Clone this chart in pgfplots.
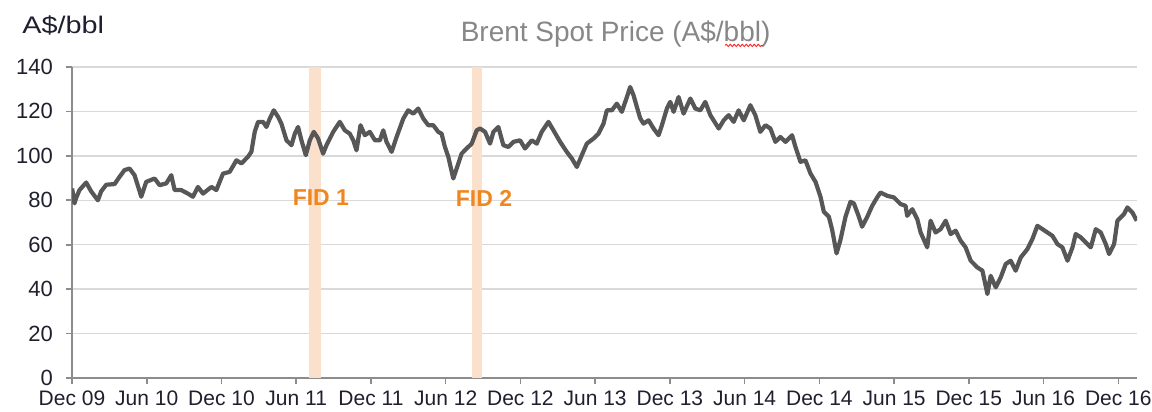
\documentclass[border=0pt]{standalone}
\usepackage{fontspec}
\setmainfont{Liberation Sans}
\usepackage{graphicx}
\usepackage{pgfplots}
\pgfplotsset{compat=1.18}
\usetikzlibrary{decorations.pathmorphing}
\definecolor{linegray}{HTML}{575757}
\definecolor{gridgray}{HTML}{D9D9D9}
\definecolor{axgray}{HTML}{8C8C8C}
\definecolor{fidband}{HTML}{FBE1CB}
\definecolor{fidtext}{HTML}{F0861E}
\definecolor{titlegray}{HTML}{878787}
\definecolor{ticktext}{HTML}{1F1F2E}
\begin{document}
\begin{tikzpicture}
\useasboundingbox (0pt,0pt) rectangle (576pt,206pt);
\begin{axis}[
  at={(36pt,17pt)}, anchor=south west,
  scale only axis, width=532.5pt, height=155.5pt,
  xmin=0, xmax=85.5, ymin=0, ymax=140,
  axis x line*=bottom, axis y line*=left,
  axis line style={axgray, line width=0.8pt, -},
  xtick={0,6,...,84},
  xticklabels={Dec 09, Jun 10, Dec 10, Jun 11, Dec 11, Jun 12, Dec 12, Jun 13, Dec 13, Jun 14, Dec 14, Jun 15, Dec 15, Jun 16, Dec 16},
  ytick={0,20,...,140},
  ymajorgrids, grid style={gridgray, line width=0.7pt},
  tick style={axgray, line width=0.8pt},
  tick align=outside, major tick length=3pt,
  ticklabel style={font=\fontsize{10.5}{12}\selectfont, text=ticktext},
  yticklabel style={font=\fontsize{11}{12}\selectfont, xshift=-3pt},
  /pgf/number format/assume math mode=true,
]
\addplot[fill=fidband, draw=none, forget plot] coordinates {(19.0,140) (19.97,140)} \closedcycle;
\addplot[fill=fidband, draw=none, forget plot] coordinates {(32.1,140) (32.9,140)} \closedcycle;
\addplot[linegray, line width=2.1pt, line join=round] coordinates {
(0.01,85.3) (0.2,78.6) (0.33,81) (0.6,84.6) (1.14,88) (1.54,84) (2.08,80) (2.34,84) (2.75,87) (3.42,87.3)
(3.82,90.6) (4.22,93.6) (4.62,94.3) (5.02,91.3) (5.43,84) (5.56,81.6) (5.96,88.3) (6.63,89.8) (7.03,86.8)
(7.57,87.6) (7.97,91.3) (8.24,84.6) (8.77,84.6) (9.31,83) (9.71,81.6) (10.11,86) (10.52,83) (11.19,86)
(11.59,84.6) (12.12,92) (12.66,92.8) (13.2,98) (13.6,96.6) (14.13,99.6) (14.4,101.8) (14.67,110.8)
(14.94,115.3) (15.34,115.3) (15.61,113) (15.88,116.8) (16.2,120.5) (16.55,117.5) (16.81,114.5) (17.22,107)
(17.62,104.8) (17.89,110) (18.15,113) (18.42,107) (18.77,100.3) (19.09,107) (19.41,110.8) (19.76,107.8)
(20.16,101) (20.43,104.8) (20.97,110.8) (21.5,115.3) (21.9,111.5)
(22.3,110) (22.58,107) (22.84,102.5) (23.16,113.8) (23.51,109.3) (23.91,110.8) (24.32,107) (24.72,107)
(24.99,111.5) (25.25,106.3) (25.66,101.8) (26.06,108.5) (26.6,116.8) (26.99,120.5) (27.4,119) (27.8,121.3)
(28.2,116.8) (28.6,113.8) (29.0,113.8) (29.4,110.8) (29.67,110) (29.94,104) (30.21,99.6) (30.61,89.8)
(30.88,94.3) (31.28,101) (31.68,103.3) (32.09,105.5) (32.49,111.5) (32.76,112.3) (33.16,110.8) (33.56,105.5)
(33.83,110.8) (34.23,113) (34.63,104.8) (35.03,104) (35.44,106.3) (35.97,107) (36.37,103.3) (36.91,107)
(37.31,105.5) (37.71,110.8) (38.25,115.3) (38.65,111.5) (39.19,106.3) (39.72,101.8) (40.13,98.8) (40.53,95)
(40.93,100.3) (41.33,105.5) (41.87,107.8) (42.27,110) (42.67,114.5) (42.94,120.5) (43.34,120.5) (43.74,123.5)
(44.14,119.8)
(44.55,126.5) (44.81,131) (45.08,127.3) (45.35,122) (45.61,117) (45.88,114.5) (46.29,116) (46.69,112.3)
(47.09,109.3) (47.36,113.8) (47.76,121.3) (48.03,124.3) (48.3,119.8) (48.7,126.5) (49.1,119) (49.64,125.8)
(50.04,121.3) (50.44,120.5) (50.84,124.3) (51.25,118.3) (51.92,112.3) (52.32,116) (52.72,118.3) (53.12,115.3)
(53.52,120.5) (53.93,116) (54.46,122.8) (54.86,118.3) (55.26,110.8) (55.67,113.8) (56.07,112.3) (56.47,106.3)
(56.87,108.5) (57.28,106.3) (57.81,109.3) (58.08,104) (58.48,97.3) (58.88,98) (59.29,92) (59.69,88.3)
(60.09,81.6) (60.36,74.8) (60.76,72.6) (61.03,66.6) (61.38,56.1) (61.69,62.1) (62.1,72.6) (62.5,79.3)
(62.77,78.6) (63.17,72.6) (63.43,68.1) (63.84,72.5)
(64.24,77.5) (64.64,81.3) (64.91,83.5) (65.45,82) (65.98,81.3) (66.52,78.3) (66.92,77.5) (67.05,73)
(67.46,76) (67.86,71.5) (68.13,65.5) (68.66,58.8) (68.93,70.8) (69.33,65.5) (69.73,67) (70.14,70.8)
(70.54,64.8) (70.94,66.3) (71.34,61.8) (71.74,58.8) (72.15,52.8) (72.68,49.8) (73.09,48.3) (73.49,37.8)
(73.75,46) (74.16,40.8) (74.56,45.3) (74.96,51.3) (75.36,52.8) (75.76,48.3) (76.17,54.3) (76.7,58)
(77.1,62.5) (77.5,68.5) (77.91,67) (78.31,65.5) (78.71,64) (79.11,60.3) (79.51,58.8) (79.92,52.8)
(80.32,58.8) (80.58,64.8) (80.99,63.3) (81.39,61) (81.79,58.8) (82.19,67) (82.59,65.5) (82.99,60.3)
(83.26,55.8) (83.66,60.3) (83.93,70.8) (84.46,73.8) (84.73,76.8) (85.13,74.5) (85.48,70.8)
};
\node[text=fidtext, font=\bfseries\fontsize{11.5}{13}\selectfont] at (axis cs:19.98,81) {FID 1};
\node[text=fidtext, font=\bfseries\fontsize{11.5}{13}\selectfont] at (axis cs:33.08,81) {FID 2};
\end{axis}
\node[anchor=base, text=titlegray, font=\fontsize{14}{16}\selectfont] at (307.8pt,185.2pt) {Brent Spot Price (A\$/bbl)};
\draw[red!85, line width=0.45pt, decorate, decoration={snake, amplitude=0.55pt, segment length=2pt}] (362.5pt,183.3pt) -- (381.5pt,183.3pt);
\node[anchor=base west, inner sep=0pt, text=ticktext] at (11pt,189.3pt) {\scalebox{1.2}[1]{\fontsize{12}{14}\selectfont A\$/bbl}};
\end{tikzpicture}
\end{document}
